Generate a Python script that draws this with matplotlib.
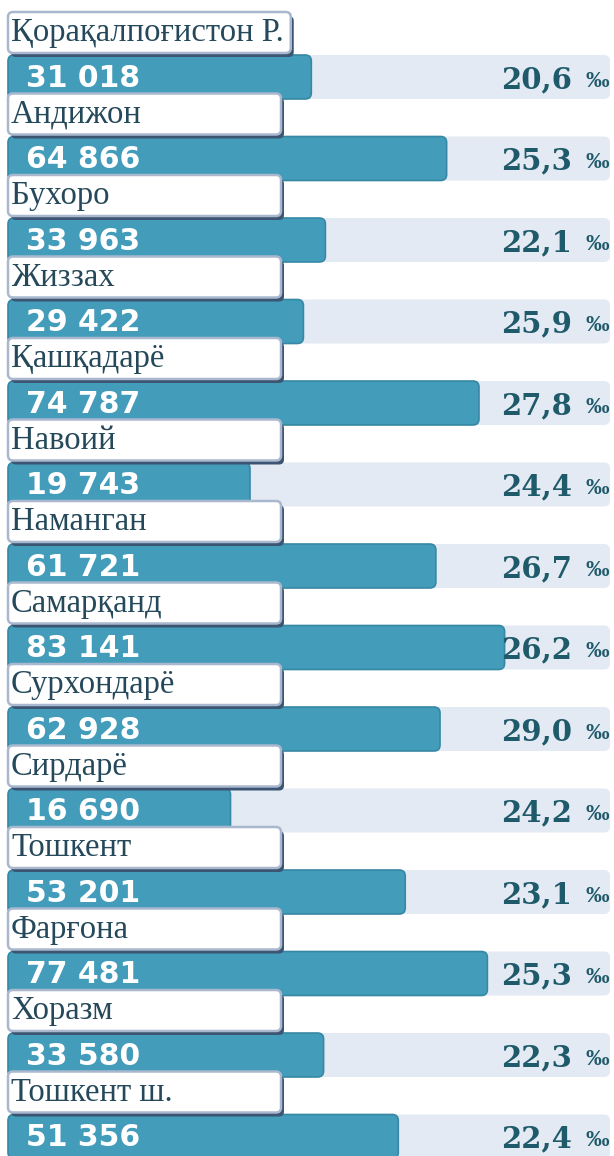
import matplotlib
matplotlib.use("Agg")
import numpy as np
import matplotlib.pyplot as plt
from matplotlib.patches import FancyBboxPatch
from matplotlib.transforms import IdentityTransform

# data
regions = ["Қорақалпоғистон Р.", "Андижон", "Бухоро", "Жиззах", "Қашқадарё",
           "Навоий", "Наманган", "Самарқанд", "Сурхондарё", "Сирдарё",
           "Тошкент", "Фарғона", "Хоразм", "Тошкент ш."]
counts = [31018, 64866, 33963, 29422, 74787, 19743, 61721, 83141, 62928,
          16690, 53201, 77481, 33580, 51356]
rates = [20.6, 25.3, 22.1, 25.9, 27.8, 24.4, 26.7, 26.2, 29.0, 24.2,
         23.1, 25.3, 22.3, 22.4]

W, H, DPI = 614, 1156, 100
bar_col = "#429cba"
bar_edge = "#3788a4"
track_col = "#e3eaf3"
pct_col = "#1f5a6a"
lab_col = "#25495a"

fig = plt.figure(figsize=(W / DPI, H / DPI), dpi=DPI)

# bar axes, square-root value scale
row_px = 81.5
first_px = 77
ax = fig.add_axes([8 / W, 0, 604 / W, 1])
ax.set_xscale("function", functions=(np.sqrt, np.square))
ax.set_xlim(0, 123000)
ax.set_ylim((H - first_px) / row_px, -first_px / row_px)
ax.axis("off")

bh = 44  # bar height in px


def rbox(x0, x1, yc, h, r, **kw):
    p = FancyBboxPatch((x0, yc - h / 2), x1 - x0, h,
                       boxstyle=f"round,pad=0,rounding_size={r}",
                       transform=IdentityTransform(), clip_on=False, **kw)
    ax.add_artist(p)


xmax = ax.get_xlim()[1]
for i, (c, rt) in enumerate(zip(counts, rates)):
    (px0, py), (pc, _), (pm, _) = ax.transData.transform([(0, i), (c, i), (xmax, i)])
    rbox(px0, pm - 2, py, bh, 6, fc=track_col, ec="none", zorder=1)
    rbox(px0, pc, py, bh, 6, fc=bar_col, ec=bar_edge, lw=1.2, zorder=2)
    ax.annotate(f"{c:,}".replace(",", " "), xy=(0, i), xytext=(18 * 0.72, -1),
                textcoords="offset points", ha="left", va="center",
                color="white", fontsize=21.5, fontweight="bold",
                family="DejaVu Sans", zorder=3)
    ax.annotate(f"{rt:.1f}".replace(".", ","), xy=(xmax, i), xytext=(-40 * 0.72, -2),
                textcoords="offset points", ha="right", va="center",
                color=pct_col, fontsize=21, fontweight="bold",
                family="DejaVu Serif", zorder=3)
    ax.annotate("‰", xy=(xmax, i), xytext=(-3 * 0.72, -3),
                textcoords="offset points", ha="right", va="center",
                color=pct_col, fontsize=17, fontweight="bold",
                family=["Liberation Serif", "DejaVu Serif"], zorder=3)

# overlay axes in pixels for label boxes
ov = fig.add_axes([0, 0, 1, 1], zorder=5)
ov.set_xlim(0, W)
ov.set_ylim(H, 0)
ov.axis("off")
ov.patch.set_alpha(0)

renderer = fig.canvas.get_renderer()
for i, name in enumerate(regions):
    top = 12 + row_px * i
    t = ov.text(11, top + 21, name, ha="left", va="center", fontsize=23.5,
                color=lab_col, family=["Liberation Serif", "DejaVu Serif"], zorder=3)
    tw = t.get_window_extent(renderer).width
    bw = max(273, tw + 10)
    sh = FancyBboxPatch((11, top + 4), bw, 41, boxstyle="round,pad=0,rounding_size=5",
                        fc="#3b5572", ec="none", zorder=1)
    ov.add_patch(sh)
    bx = FancyBboxPatch((8, top), bw, 41, boxstyle="round,pad=0,rounding_size=5",
                        fc="white", ec="#a9b8cf", lw=1.8, zorder=2)
    ov.add_patch(bx)

fig.savefig("out.png", dpi=DPI)
